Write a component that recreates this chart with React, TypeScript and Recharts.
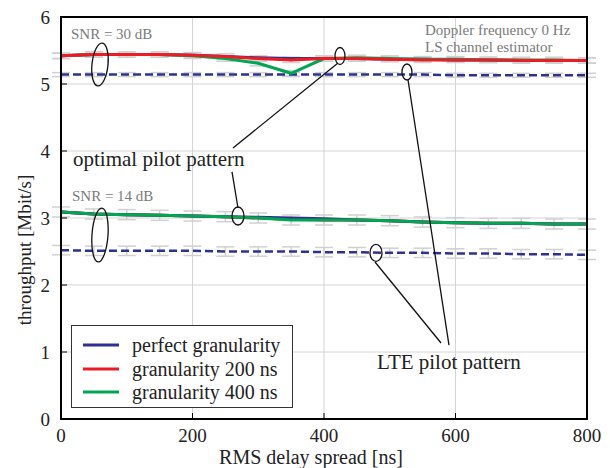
import React from "react";
import {
  LineChart,
  Line,
  XAxis,
  YAxis,
  CartesianGrid,
  ErrorBar,
  ReferenceLine,
  ReferenceDot,
  Legend,
} from "recharts";

// RMS delay spread [ns]
const delays = [0, 50, 100, 150, 200, 250, 300, 350, 400, 450, 500, 550, 600, 650, 700, 750, 800];

// SNR = 30 dB, optimal pilot pattern
const perfect30 = [5.42, 5.44, 5.44, 5.44, 5.43, 5.41, 5.39, 5.38, 5.38, 5.38, 5.37, 5.37, 5.36, 5.36, 5.35, 5.35, 5.35];
const gran200_30 = [5.42, 5.44, 5.44, 5.44, 5.43, 5.41, 5.38, 5.36, 5.38, 5.38, 5.37, 5.36, 5.36, 5.36, 5.35, 5.35, 5.35];
const gran400_30 = [5.42, 5.44, 5.44, 5.44, 5.42, 5.38, 5.31, 5.16, 5.38, 5.39, 5.38, 5.37, 5.37, 5.36, 5.36, 5.36, 5.35];
// SNR = 30 dB, LTE pilot pattern
const lte30 = [5.14, 5.14, 5.14, 5.14, 5.14, 5.14, 5.14, 5.14, 5.14, 5.14, 5.14, 5.14, 5.13, 5.13, 5.13, 5.13, 5.13];

// SNR = 14 dB, optimal pilot pattern
const perfect14 = [3.09, 3.06, 3.05, 3.04, 3.03, 3.02, 3.01, 3.0, 2.99, 2.97, 2.96, 2.94, 2.93, 2.92, 2.92, 2.91, 2.91];
const gran200_14 = [3.09, 3.06, 3.05, 3.04, 3.03, 3.02, 3.0, 2.98, 2.97, 2.97, 2.96, 2.94, 2.93, 2.92, 2.92, 2.91, 2.91];
const gran400_14 = [3.09, 3.06, 3.05, 3.04, 3.03, 3.02, 3.0, 2.97, 2.97, 2.97, 2.96, 2.94, 2.93, 2.92, 2.92, 2.91, 2.91];
// SNR = 14 dB, LTE pilot pattern
const lte14 = [2.52, 2.51, 2.51, 2.51, 2.51, 2.5, 2.5, 2.5, 2.49, 2.49, 2.48, 2.48, 2.47, 2.47, 2.46, 2.46, 2.45];

// confidence interval half widths
const err30 = 0.04;
const errLte30 = 0.03;
const err14 = 0.075;
const errLte14 = 0.07;

const xTicks = [0, 200, 400, 600, 800];
const yTicks = [0, 1, 2, 3, 4, 5, 6];

const BLUE = "#2e3192";
const RED = "#ed1c24";
const GREEN = "#00a651";
const BAR = "#d0d0d0";
const FONT = "'Liberation Serif', 'Times New Roman', 'DejaVu Serif', serif";

const legendItems = [
  { name: "perfect granularity", color: BLUE },
  { name: "granularity 200 ns", color: RED },
  { name: "granularity 400 ns", color: GREEN },
];

const data = delays.map((d, i) => ({
  d,
  b30: perfect30[i],
  r30: gran200_30[i],
  g30: gran400_30[i],
  l30: lte30[i],
  b14: perfect14[i],
  r14: gran200_14[i],
  g14: gran400_14[i],
  l14: lte14[i],
  e30: err30,
  el30: errLte30,
  e14: err14,
  el14: errLte14,
}));

function renderLegend() {
  return (
    <div
      style={{
        width: 222,
        height: 83,
        boxSizing: "border-box",
        border: "1.5px solid #333",
        background: "#fff",
        position: "relative",
        fontFamily: FONT,
        fontSize: 20,
        color: "#222",
      }}
    >
      {legendItems.map((it, i) => (
        <div
          key={it.name}
          style={{ position: "absolute", left: 10, top: 7 + i * 23.5, height: 24, lineHeight: "24px", whiteSpace: "nowrap" }}
        >
          <svg width={38} height={24} style={{ verticalAlign: "top" }}>
            <line x1={1} y1={12} x2={37} y2={12} stroke={it.color} strokeWidth={3} />
          </svg>
          <span style={{ marginLeft: 12 }}>{it.name}</span>
        </div>
      ))}
    </div>
  );
}

const loop = (rx: number, ry: number, rot = 0) => (p: any) => (
  <ellipse
    cx={p.cx}
    cy={p.cy}
    rx={rx}
    ry={ry}
    fill="none"
    stroke="#111"
    strokeWidth={1.3}
    transform={`rotate(${rot} ${p.cx} ${p.cy})`}
  />
);

const note = (text: string, size: number, color: string) => (p: any) => (
  <text x={p.cx} y={p.cy} fontSize={size} fill={color} fontFamily={FONT}>
    {text}
  </text>
);

export default function App() {
  const axisLine = { stroke: "#000", strokeWidth: 2 };
  const tickLine = { stroke: "#000", strokeWidth: 1 };
  const tickStyle = { fontSize: 19, fill: "#222", fontFamily: FONT };
  return (
    <div style={{ position: "absolute", left: 0, top: 0, width: 610, height: 468, fontFamily: FONT, background: "#fff" }}>
      <LineChart width={610} height={468} data={data} margin={{ top: 17, right: 23, left: 0, bottom: 0 }}>
        <CartesianGrid stroke="#d4d4d4" strokeWidth={1} />
        <XAxis
          dataKey="d"
          type="number"
          domain={[0, 800]}
          ticks={xTicks}
          height={49}
          axisLine={axisLine}
          tickLine={tickLine}
          tickSize={-6}
          tickMargin={16}
          tick={tickStyle}
          label={{
            content: () => (
              <text x={311} y={464} textAnchor="middle" fontSize={20} fill="#222" fontFamily={FONT}>
                RMS delay spread [ns]
              </text>
            ),
          }}
        />
        <YAxis
          type="number"
          domain={[0, 6]}
          ticks={yTicks}
          width={61}
          axisLine={axisLine}
          tickLine={tickLine}
          tickSize={-6}
          tickMargin={17}
          tick={tickStyle}
          label={{
            content: () => (
              <text
                x={27}
                y={250}
                transform="rotate(-90 27 250)"
                textAnchor="middle"
                dominantBaseline="middle"
                fontSize={19}
                fill="#222"
                fontFamily={FONT}
              >
                throughput [Mbit/s]
              </text>
            ),
          }}
        />

        {/* error bars behind the curves */}
        <Line dataKey="r30" stroke="none" dot={false} activeDot={false} isAnimationActive={false}>
          <ErrorBar dataKey="e30" width={9} stroke={BAR} strokeWidth={1.5} />
        </Line>
        <Line dataKey="g30" stroke="none" dot={false} activeDot={false} isAnimationActive={false}>
          <ErrorBar dataKey="e30" width={9} stroke={BAR} strokeWidth={1.5} />
        </Line>
        <Line dataKey="l30" stroke="none" dot={false} activeDot={false} isAnimationActive={false}>
          <ErrorBar dataKey="el30" width={9} stroke={BAR} strokeWidth={1.5} />
        </Line>
        <Line dataKey="g14" stroke="none" dot={false} activeDot={false} isAnimationActive={false}>
          <ErrorBar dataKey="e14" width={9} stroke={BAR} strokeWidth={1.5} />
        </Line>
        <Line dataKey="l14" stroke="none" dot={false} activeDot={false} isAnimationActive={false}>
          <ErrorBar dataKey="el14" width={9} stroke={BAR} strokeWidth={1.5} />
        </Line>

        <Line dataKey="l30" stroke={BLUE} strokeWidth={2.5} strokeDasharray="8 4" dot={false} isAnimationActive={false} />
        <Line dataKey="l14" stroke={BLUE} strokeWidth={2.5} strokeDasharray="8 4" dot={false} isAnimationActive={false} />
        <Line dataKey="b30" stroke={BLUE} strokeWidth={3} dot={false} isAnimationActive={false} />
        <Line dataKey="g30" stroke={GREEN} strokeWidth={3} dot={false} isAnimationActive={false} />
        <Line dataKey="r30" stroke={RED} strokeWidth={3} dot={false} isAnimationActive={false} />
        <Line dataKey="r14" stroke={RED} strokeWidth={3} dot={false} isAnimationActive={false} />
        <Line dataKey="b14" stroke={BLUE} strokeWidth={3} dot={false} isAnimationActive={false} />
        <Line dataKey="g14" stroke={GREEN} strokeWidth={3} dot={false} isAnimationActive={false} />

        {/* annotations */}
        <ReferenceDot x={15.2} y={5.672} r={0} shape={note("SNR = 30 dB", 15, "#7a7a7a")} />
        <ReferenceDot x={16.7} y={3.254} r={0} shape={note("SNR = 14 dB", 15, "#7a7a7a")} />
        <ReferenceDot x={553.6} y={5.731} r={0} shape={note("Doppler frequency 0 Hz", 15, "#7a7a7a")} />
        <ReferenceDot x={553.6} y={5.478} r={0} shape={note("LS channel estimator", 15, "#7a7a7a")} />
        <ReferenceDot x={18.3} y={3.776} r={0} shape={note("optimal pilot pattern", 21, "#222")} />
        <ReferenceDot x={480.6} y={0.746} r={0} shape={note("LTE pilot pattern", 21, "#222")} />

        <ReferenceDot x={59.3} y={5.291} r={0} shape={loop(8, 21.5, 6)} />
        <ReferenceDot x={59.3} y={2.746} r={0} shape={loop(8, 27, 4)} />
        <ReferenceDot x={424.3} y={5.418} r={0} shape={loop(5, 8.5)} />
        <ReferenceDot x={269.2} y={3.03} r={0} shape={loop(6, 9)} />
        <ReferenceDot x={526.2} y={5.179} r={0} shape={loop(5, 8)} />
        <ReferenceDot x={479.1} y={2.478} r={0} shape={loop(6, 8.5)} />

        <ReferenceLine segment={[{ x: 261.6, y: 4.045 }, { x: 421.3, y: 5.313 }]} stroke="#111" strokeWidth={1.3} />
        <ReferenceLine segment={[{ x: 260.1, y: 3.687 }, { x: 269.2, y: 3.149 }]} stroke="#111" strokeWidth={1.3} />
        <ReferenceLine segment={[{ x: 527.8, y: 5.06 }, { x: 590.1, y: 1.104 }]} stroke="#111" strokeWidth={1.3} />
        <ReferenceLine segment={[{ x: 477.6, y: 2.343 }, { x: 578.0, y: 1.134 }]} stroke="#111" strokeWidth={1.3} />

        <Legend
          layout="horizontal"
          verticalAlign="middle"
          align="center"
          content={renderLegend}
          wrapperStyle={{ position: "absolute", left: 71, top: 325, width: 222, height: 83 }}
        />
      </LineChart>
      {/* plot box frame */}
      <div
        style={{
          position: "absolute",
          left: 60,
          top: 16,
          width: 528,
          height: 404,
          boxSizing: "border-box",
          border: "2px solid #000",
          pointerEvents: "none",
        }}
      />
    </div>
  );
}
